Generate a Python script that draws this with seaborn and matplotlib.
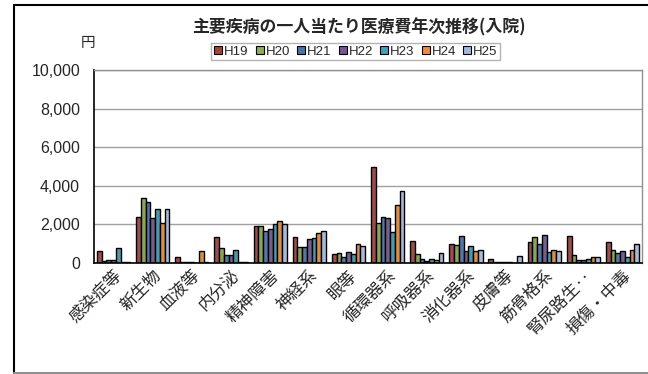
import pandas as pd
import numpy as np
import seaborn as sns
import matplotlib.pyplot as plt
from matplotlib.lines import Line2D
from matplotlib.ticker import FuncFormatter

# categories and yearly per-capita inpatient costs (yen)
categories = ['感染症等', '新生物', '血液等', '内分泌', '精神障害', '神経系', '眼等',
              '循環器系', '呼吸器系', '消化器系', '皮膚等', '筋骨格系', '腎尿路生‥', '損傷・中毒']
years = ['H19', 'H20', 'H21', 'H22', 'H23', 'H24', 'H25']

h19 = [600, 2400, 320, 1330, 1910, 1350, 460, 4990, 1150, 960, 200, 1110, 1390, 1090]
h20 = [100, 3370, 60, 790, 1900, 850, 510, 2050, 480, 910, 40, 1330, 410, 650]
h21 = [130, 3160, 40, 430, 1660, 850, 310, 2360, 200, 1390, 60, 990, 170, 490]
h22 = [170, 2340, 30, 430, 1740, 1230, 560, 2330, 120, 630, 60, 1440, 170, 620]
h23 = [780, 2820, 20, 680, 2020, 1280, 460, 1590, 200, 870, 30, 580, 220, 320]
h24 = [70, 2050, 630, 60, 2150, 1560, 990, 2980, 160, 620, 0, 680, 310, 680]
h25 = [50, 2780, 60, 50, 2000, 1640, 900, 3750, 530, 650, 360, 630, 310, 960]

colors = ['#A94040', '#8FB04D', '#4A74AE', '#735993', '#3FA1BA', '#F08C36', '#A3B8DD']

series = [h19, h20, h21, h22, h23, h24, h25]
df = pd.DataFrame({
    'cat': np.tile(categories, len(years)),
    'year': np.repeat(years, len(categories)),
    'value': np.concatenate(series),
})

sns.set_style('white')
plt.rcParams['font.family'] = ['Noto Sans CJK JP', 'DejaVu Sans']

fig = plt.figure(figsize=(6.48, 3.74), dpi=100)
ax = fig.add_axes([0.145, 0.297, 0.846, 0.516])

sns.barplot(data=df, x='cat', y='value', hue='year', palette=colors,
            width=0.85, edgecolor='black', linewidth=1.0, ax=ax, legend=False)

ax.set_ylim(0, 10000)
ax.set_yticks(range(0, 10001, 2000))
ax.yaxis.set_major_formatter(FuncFormatter(lambda v, p: f'{int(v):,}'))
ax.yaxis.grid(True, color='#A0A0A0', linewidth=1)
ax.set_axisbelow(True)
ax.set_xlabel('')
ax.set_ylabel('')
ax.set_xlim(-0.5, len(categories) - 0.5)

for s in ['left', 'bottom']:
    ax.spines[s].set_color('black')
    ax.spines[s].set_linewidth(1.2)
for s in ['top', 'right']:
    ax.spines[s].set_color('#909090')
    ax.spines[s].set_linewidth(1)

ax.tick_params(axis='y', labelsize=11.5, length=0, pad=10)
ax.tick_params(axis='x', labelsize=12, length=0, pad=3)
plt.setp(ax.get_xticklabels(), rotation=45, ha='right', rotation_mode='anchor')
for lbl in ax.get_yticklabels():
    lbl.set_family(['Liberation Sans', 'DejaVu Sans'])

# title, unit and legend
fig.text(0.554, 0.928, '主要疾病の一人当たり医療費年次推移(入院)', ha='center', va='center',
         fontsize=12.2, fontweight='bold')
fig.text(0.136, 0.885, '円', ha='center', va='center', fontsize=10.5)

handles = [Line2D([], [], marker='s', linestyle='', markersize=6, markerfacecolor=c,
                  markeredgecolor='black', markeredgewidth=0.8) for c in colors]
leg = fig.legend(handles, years, loc='center', bbox_to_anchor=(0.549, 0.862), ncol=7,
                 prop={'family': ['Liberation Sans', 'DejaVu Sans'], 'size': 9.5},
                 frameon=True, fancybox=False, handlelength=0.6,
                 handletextpad=0.15, columnspacing=0.55, borderpad=0.2)
leg.get_frame().set_edgecolor('#A0A0A0')
leg.get_frame().set_linewidth(1)

# outer chart border
fig.add_artist(Line2D([0.0216, 0.0216], [0.003, 0.987], color='black', linewidth=1.5,
                      transform=fig.transFigure))
fig.add_artist(Line2D([0.0216, 1.0], [0.987, 0.987], color='black', linewidth=1.5,
                      transform=fig.transFigure))
fig.add_artist(Line2D([0.0216, 1.0], [0.003, 0.003], color='#909090', linewidth=1.5,
                      transform=fig.transFigure))

fig.savefig('out.png', dpi=100)
